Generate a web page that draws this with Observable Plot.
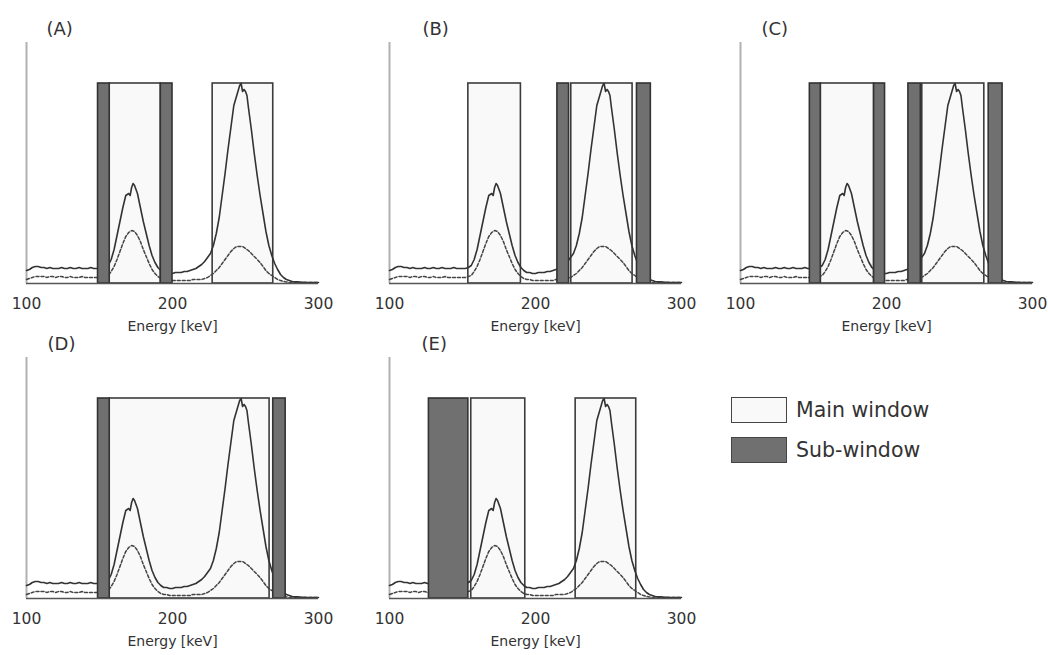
<!DOCTYPE html>
<html>
<head>
<meta charset="utf-8">
<script src="https://cdn.jsdelivr.net/npm/d3@7"></script>
<script src="https://cdn.jsdelivr.net/npm/@observablehq/plot@0.6"></script>
<style>
  html, body { margin: 0; padding: 0; background: #fff; overflow: hidden; }
  #wrap { position: relative; width: 1048px; height: 655px; font-family: "DejaVu Sans", Verdana, sans-serif; color: #333; }
  #wrap svg { position: absolute; }
  .leg { position: absolute; display: flex; align-items: center; font-size: 20.5px; color: #333; }
  .sw { width: 54px; height: 24px; border: 1.5px solid #444; margin-right: 9px; box-sizing: content-box; }
</style>
</head>
<body>
<div id="wrap"></div>
<script>
// ---- Data ----
const xTicks = [100, 200, 300];
const xLabel = "Energy [keV]";
const panelLabels = ["(A)", "(B)", "(C)", "(D)", "(E)"];
const windowTop = 100;   // window height (same units as counts)

// Spectrum: total (solid) and primary (dashed), relative counts vs energy [keV]
const solidSpectrum = [
[100,6.5],[102,7],[104,8],[106,8.5],[108,8.5],[110,8],[112,8],[114,7.5],[116,8],[118,7.5],
[120,7.5],[122,7.5],[124,8],[126,7.5],[128,7.5],[130,8],[132,7.5],[134,7.5],[136,8],[138,7.5],
[140,7.5],[142,7.5],[144,8],[146,7.5],[148,7.5],[150,7.5],[152,7.5],[154,8],[156,9],[158,12],
[160,17],[162,24],[164,31],[166,38],[168,44],[170,45],[171,44],[172,48],[173,50],[174,49],
[176,45],[178,38],[180,31],[182,25],[184,19],[186,14],[188,10.5],[190,8],[192,6.5],[194,5.5],
[196,5.5],[198,5],[200,5],[202,5.5],[204,5.5],[206,5.5],[208,6],[210,6],[212,6.5],[214,7],
[216,7.5],[218,8.5],[220,9.5],[222,11],[224,13],[226,15],[228,19],[230,25],[232,33],[234,44],
[236,55],[238,67],[240,78],[242,89],[244,94],[246,99],[247,100],[248,96],[249,97],[250,96],
[251,94],[252,88],[254,77],[256,65],[258,54],[260,44],[262,35],[264,26],[266,19],[268,14],
[270,10],[272,7],[274,4.5],[276,3],[278,2],[280,1.5],[282,1],[284,0.8],[286,0.8],[288,0.6],
[290,0.6],[292,0.5],[294,0.5],[296,0.5],[298,0.5],[300,0.5]
];
const dashedSpectrum = [
[100,2],[102,2.5],[104,3],[106,3.5],[108,3.5],[110,3.5],[112,3.5],[114,3],[116,3.5],[118,3.5],
[120,3],[122,3.5],[124,3.5],[126,3],[128,3],[130,3.5],[132,3],[134,3],[136,3],[138,3.5],
[140,3],[142,3],[144,3],[146,3],[148,3],[150,3],[152,3],[154,3.5],[156,4],[158,6],
[160,8.5],[162,12],[164,16],[166,20],[168,23.5],[170,25.5],[172,26.5],[174,26],[176,24],[178,21],
[180,17],[182,13.5],[184,10],[186,7],[188,5],[190,3.5],[192,2.5],[194,2],[196,2],[198,1.5],
[200,1.5],[202,1.5],[204,1.5],[206,1.5],[208,1.5],[210,1.5],[212,1.5],[214,2],[216,2],[218,2],
[220,2],[222,2.5],[224,3],[226,4],[228,5],[230,6.5],[232,8],[234,10],[236,12],[238,14],
[240,16],[242,17.5],[244,18.5],[246,18.5],[248,18.5],[250,17.5],[252,16.5],[254,15],[256,13.5],[258,12],
[260,10.5],[262,8.5],[264,6.5],[266,5],[268,4],[270,3],[272,2],[274,1.5],[276,1],[278,0.8],
[280,0.5],[284,0.5],[288,0.5],[292,0.5],[296,0.5],[300,0.5]
];

// Energy windows [low, high] keV per panel
const mainA = [[157,192],[227.5,269]];
const subA  = [[149,157],[192,200]];
const mainB = [[154,190],[224.5,266.5]];
const subB  = [[215,223],[269.5,279]];
const mainC = [[155,191.5],[224.5,267]];
const subC  = [[147.5,155],[191.5,199],[215,223.5],[270,279.5]];
const mainD = [[157,266.5]];
const subD  = [[149,157],[269,277.5]];
const mainE = [[156,193],[227.5,269]];
const subE  = [[127,154]];

const legendLabels = ["Main window", "Sub-window"];

// ---- Drawing ----
const wrap = document.getElementById("wrap");
const toRows = (arr) => arr.map(([e, v]) => ({e, v}));
const toWin = (arr) => arr.map(([lo, hi]) => ({lo, hi, top: windowTop}));

const panels = [
  {label: panelLabels[0], main: mainA, sub: subA, left: 0,   top: 0,   dx: 20},
  {label: panelLabels[1], main: mainB, sub: subB, left: 363, top: 0,   dx: 33},
  {label: panelLabels[2], main: mainC, sub: subC, left: 714, top: 0,   dx: 21},
  {label: panelLabels[3], main: mainD, sub: subD, left: 0,   top: 315, dx: 21},
  {label: panelLabels[4], main: mainE, sub: subE, left: 363, top: 315, dx: 32}
];

const font = "DejaVu Sans, Verdana, sans-serif";

for (const p of panels) {
  const svg = Plot.plot({
    width: 334,
    height: 330,
    marginLeft: 26,
    marginRight: 16,
    marginTop: 42,
    marginBottom: 47,
    style: {fontFamily: font, color: "#333", background: "transparent", overflow: "visible"},
    x: {domain: [100, 300]},
    y: {domain: [0, 120.5], axis: null},
    marks: [
      Plot.ruleX([100], {stroke: "#b0b0b0", strokeWidth: 2}),
      Plot.rect(toWin(p.main), {x1: "lo", x2: "hi", y1: 0, y2: "top", fill: "#f9f9f9", stroke: "#3c3c3c", strokeWidth: 1.6}),
      Plot.line(toRows(dashedSpectrum), {x: "e", y: "v", stroke: "#444", strokeWidth: 1.5, strokeDasharray: "3,2"}),
      Plot.line(toRows(solidSpectrum), {x: "e", y: "v", stroke: "#333", strokeWidth: 1.6}),
      Plot.rect(toWin(p.sub), {x1: "lo", x2: "hi", y1: 0, y2: "top", fill: "#707070", stroke: "#333", strokeWidth: 1.6}),
      Plot.ruleY([0], {stroke: "#555", strokeWidth: 1.5}),
      Plot.axisX(xTicks, {tickSize: 0, tickPadding: 14, fontSize: 15.5, label: null, fill: "#333"}),
      Plot.text([xLabel], {frameAnchor: "bottom", dy: 43, lineAnchor: "middle", fontSize: 14, fill: "#333"}),
      Plot.text([p.label], {frameAnchor: "top-left", dx: p.dx, dy: -13, lineAnchor: "middle", textAnchor: "start", fontSize: 18, fill: "#333"})
    ]
  });
  svg.style.left = p.left + "px";
  svg.style.top = p.top + "px";
  wrap.appendChild(svg);
}

// Legend
const legendFills = ["#f9f9f9", "#707070"];
legendLabels.forEach((lab, i) => {
  const d = document.createElement("div");
  d.className = "leg";
  d.style.left = "731px";
  d.style.top = (397 + i * 40) + "px";
  const sw = document.createElement("div");
  sw.className = "sw";
  sw.style.background = legendFills[i];
  const t = document.createElement("span");
  t.textContent = lab;
  d.appendChild(sw);
  d.appendChild(t);
  wrap.appendChild(d);
});
</script>
</body>
</html>
